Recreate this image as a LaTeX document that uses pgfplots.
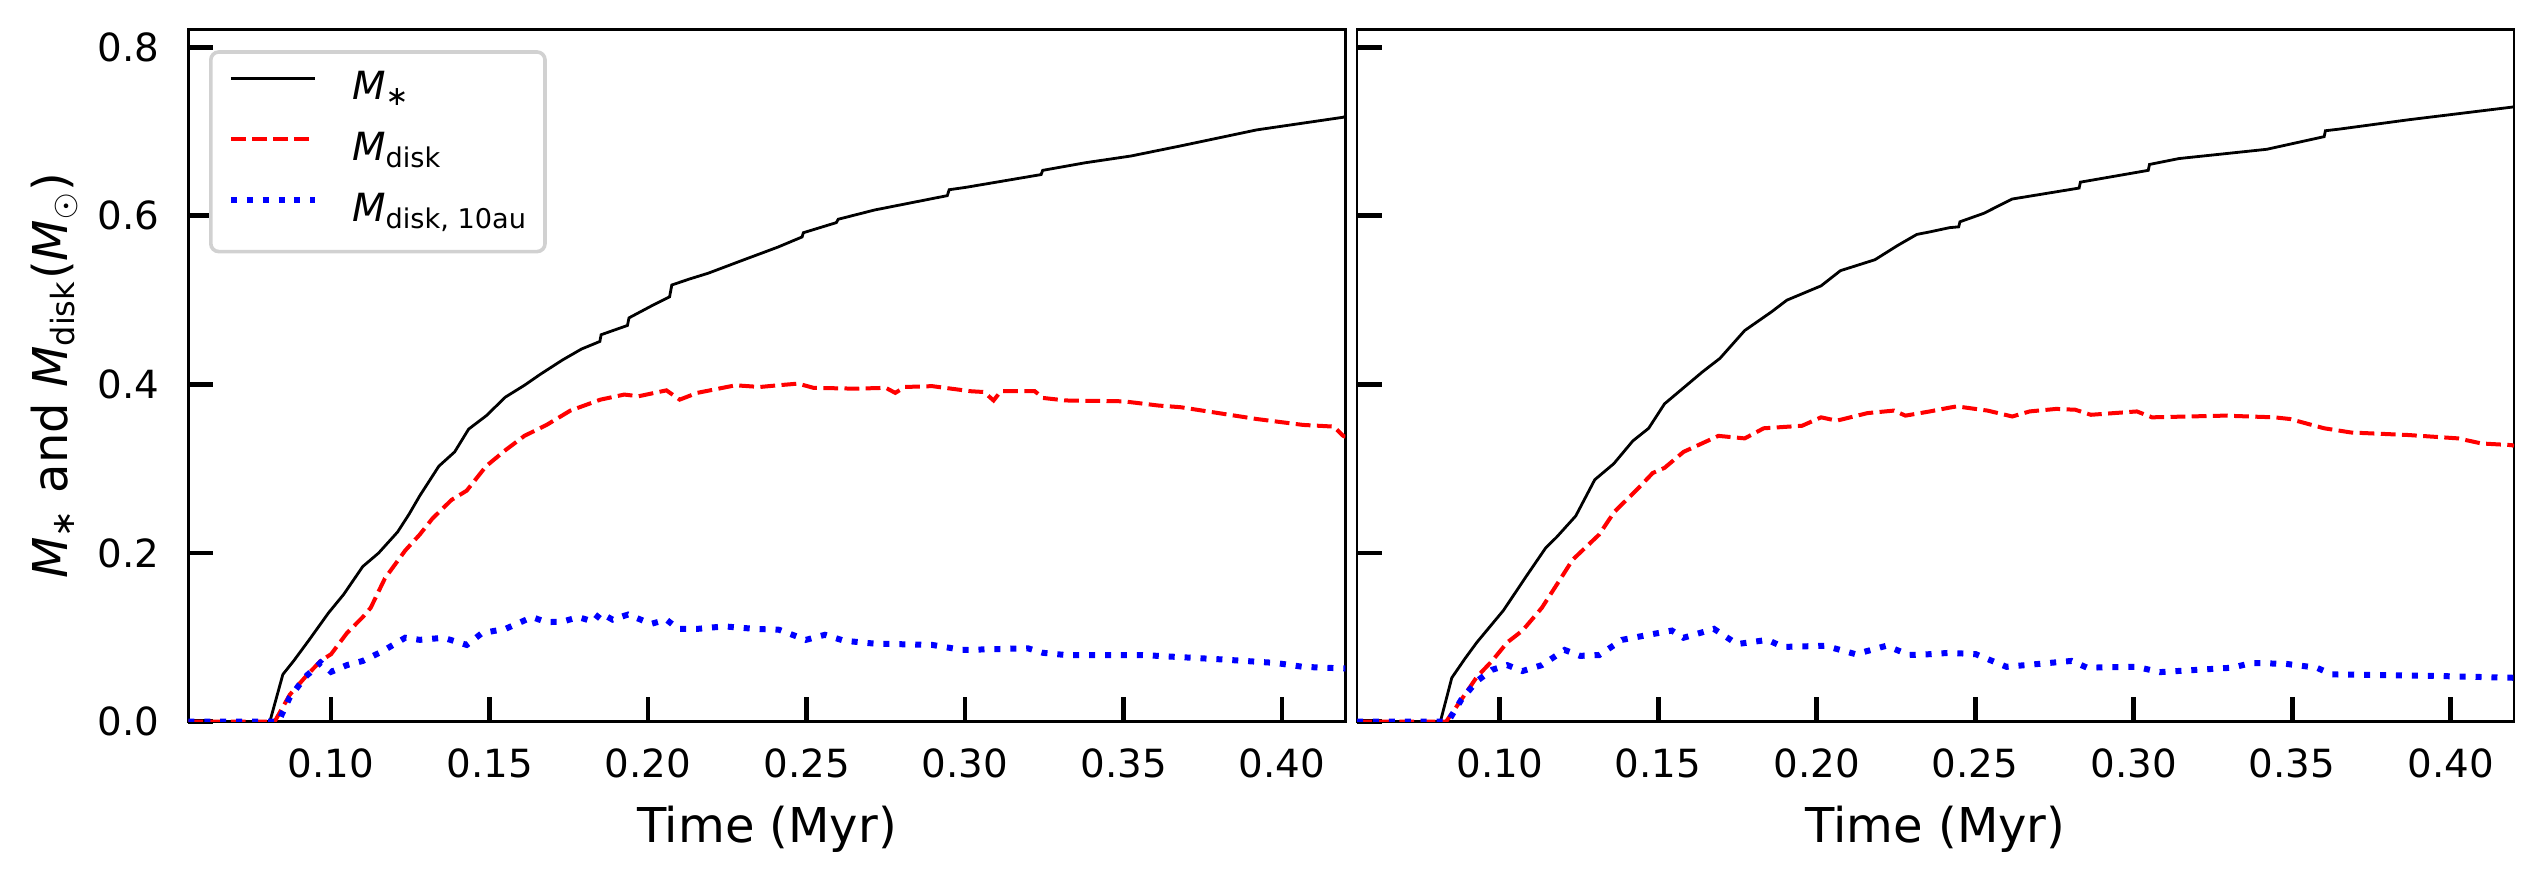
\documentclass[border=0pt]{standalone}
\usepackage{fontspec}
\setmainfont{DejaVu Sans}
\usepackage{pgfplots}
\pgfplotsset{compat=1.18}
\newcommand{\Msub}[1]{\textit{M}\textsubscript{#1}}
\newcommand{\tickfont}{\fontsize{9.7}{11}\selectfont}
\newcommand{\labfont}{\fontsize{12}{14}\selectfont}

\pgfplotsset{
  panel/.style={
    scale only axis, width=289.25pt, height=173pt,
    xmin=0.055, xmax=0.42, ymin=0, ymax=0.821,
    xtick={0.10,0.15,0.20,0.25,0.30,0.35,0.40},
    ytick={0,0.2,0.4,0.6,0.8},
    xtick pos=bottom, ytick pos=left,
    tick align=inside,
    major tick length=6.2pt,
    tick style={black, line width=1.2pt},
    axis line style={line width=0.7pt},
    /pgf/number format/assume math mode=true,
    x tick label style={/pgf/number format/fixed, /pgf/number format/fixed zerofill, /pgf/number format/precision=2,
      font=\tickfont, inner sep=0pt, anchor=base, yshift=-14pt},
    y tick label style={/pgf/number format/fixed, /pgf/number format/fixed zerofill, /pgf/number format/precision=1,
      font=\tickfont, inner sep=0pt, anchor=east, xshift=-7.1pt},
    every axis x label/.style={at={(axis description cs:0.5,-0.1751)}, anchor=base, inner sep=0pt, font=\labfont},
    every axis y label/.style={at={(axis description cs:-0.0951,0.5)}, anchor=south, rotate=90, inner sep=0pt, font=\labfont},
    xlabel={Time (Myr)},
  },
  mstar/.style={black, line width=0.7pt, mark=none},
  mdisk/.style={red, line width=1pt, dash pattern=on 3.7pt off 1.6pt, mark=none},
  mten/.style={blue, line width=1.5pt, dash pattern=on 1.5pt off 2.48pt, mark=none},
}

\begin{document}
\begin{tikzpicture}
\useasboundingbox (0,0) rectangle (635.75pt,220.5pt);

\begin{axis}[panel, at={(47.1pt,40.1pt)}, anchor=south west,
  ylabel={\Msub{∗} and \Msub{disk}(\Msub{$\odot$})},
  legend image code/.code={\draw[#1] (0pt,0.32em) -- (21pt,0.32em);},
  legend cell align=left,
  legend style={at={(0,1)}, anchor=north west, xshift=5.15pt, yshift=-5.15pt,
    draw=black!18, line width=0.9pt, rounded corners=2pt, fill=white,
    inner xsep=4.25pt, inner ysep=5pt, row sep=5.7pt, column sep=8.6pt,
    font=\tickfont, nodes={inner sep=0pt, text height=7pt, text depth=2.5pt}},
]
\addplot[mstar] coordinates {
(0.055,0) (0.0807,0) (0.0848,0.056) (0.0882,0.072) (0.0931,0.097) (0.0992,0.129) (0.104,0.151) (0.110,0.184) (0.115,0.200) (0.121,0.225) (0.1246,0.246) (0.128,0.268) (0.134,0.303) (0.139,0.320) (0.1434,0.347) (0.149,0.363) (0.155,0.385) (0.161,0.399) (0.166,0.412) (0.173,0.429) (0.179,0.442) (0.1848,0.451) (0.1852,0.459) (0.1935,0.470) (0.194,0.479) (0.201,0.493) (0.2068,0.504) (0.2075,0.518) (0.213,0.525) (0.219,0.532) (0.231,0.549) (0.2353,0.555) (0.241,0.563) (0.2486,0.575) (0.249,0.580) (0.2594,0.592) (0.260,0.596) (0.2715,0.607) (0.2944,0.624) (0.2950,0.631) (0.3005,0.634) (0.324,0.649) (0.3245,0.654) (0.3379,0.663) (0.3523,0.671) (0.368,0.683) (0.392,0.702) (0.4193,0.717) (0.42,0.718)
};
\addlegendentry{\Msub{∗}}
\addplot[mdisk] coordinates {
(0.055,0) (0.0822,0) (0.087,0.032) (0.0919,0.053) (0.0967,0.072) (0.100,0.080) (0.105,0.105) (0.110,0.124) (0.1125,0.135) (0.117,0.170) (0.1234,0.203) (0.128,0.222) (0.132,0.241) (0.138,0.263) (0.1428,0.274) (0.1489,0.303) (0.155,0.322) (0.161,0.339) (0.168,0.352) (0.1755,0.369) (0.185,0.382) (0.1925,0.388) (0.197,0.386) (0.2058,0.393) (0.210,0.382) (0.2155,0.390) (0.2276,0.399) (0.2353,0.397) (0.241,0.399) (0.2473,0.401) (0.2522,0.396) (0.2654,0.395) (0.275,0.396) (0.278,0.390) (0.281,0.397) (0.2896,0.398) (0.3017,0.392) (0.306,0.391) (0.309,0.381) (0.3113,0.392) (0.322,0.392) (0.3246,0.384) (0.3318,0.381) (0.35,0.380) (0.361,0.375) (0.368,0.373) (0.380,0.366) (0.392,0.359) (0.4066,0.352) (0.4163,0.350) (0.4193,0.339) (0.42,0.338)
};
\addlegendentry{\Msub{disk}}
\addplot[mten] coordinates {
(0.055,0) (0.0834,0) (0.087,0.029) (0.0919,0.053) (0.0967,0.070) (0.100,0.059) (0.105,0.067) (0.110,0.072) (0.116,0.083) (0.1234,0.0995) (0.128,0.097) (0.1355,0.0995) (0.1428,0.091) (0.1476,0.105) (0.155,0.110) (0.1634,0.124) (0.168,0.118) (0.173,0.1186) (0.178,0.124) (0.1828,0.1186) (0.185,0.129) (0.1888,0.121) (0.1937,0.127) (0.201,0.116) (0.2058,0.121) (0.2095,0.110) (0.2155,0.110) (0.224,0.113) (0.2337,0.110) (0.2413,0.109) (0.2498,0.097) (0.2558,0.103) (0.2618,0.096) (0.2715,0.0925) (0.2896,0.091) (0.2992,0.085) (0.3198,0.087) (0.3246,0.0816) (0.3318,0.079) (0.356,0.079) (0.380,0.074) (0.398,0.0696) (0.4066,0.065) (0.42,0.063)
};
\addlegendentry{\Msub{disk, 10au}}
\end{axis}

\begin{axis}[panel, at={(339.25pt,40.1pt)}, anchor=south west, yticklabels={}]
\addplot[mstar] coordinates {
(0.055,0) (0.0813,0) (0.0849,0.052) (0.0891,0.075) (0.0928,0.094) (0.1012,0.132) (0.1085,0.173) (0.1145,0.206) (0.118,0.219) (0.124,0.244) (0.130,0.287) (0.136,0.306) (0.142,0.333) (0.147,0.348) (0.152,0.377) (0.158,0.396) (0.164,0.415) (0.1695,0.431) (0.1773,0.464) (0.1857,0.486) (0.1906,0.500) (0.2014,0.517) (0.2075,0.535) (0.2184,0.548) (0.2256,0.565) (0.2316,0.578) (0.2357,0.581) (0.2419,0.586) (0.2448,0.587) (0.2452,0.593) (0.2527,0.603) (0.2617,0.620) (0.2828,0.633) (0.2832,0.640) (0.3046,0.654) (0.305,0.661) (0.3143,0.668) (0.342,0.679) (0.3601,0.694) (0.3605,0.701) (0.365,0.703) (0.3867,0.714) (0.4193,0.729) (0.42,0.7295)
};
\addplot[mdisk] coordinates {
(0.055,0) (0.0831,0) (0.0879,0.026) (0.0928,0.053) (0.0976,0.072) (0.1024,0.094) (0.1072,0.108) (0.1133,0.135) (0.1193,0.170) (0.123,0.192) (0.1314,0.222) (0.1362,0.249) (0.1435,0.276) (0.1483,0.295) (0.152,0.301) (0.158,0.320) (0.169,0.339) (0.1773,0.336) (0.1833,0.348) (0.1954,0.351) (0.2014,0.361) (0.2063,0.357) (0.216,0.366) (0.2244,0.369) (0.228,0.363) (0.2357,0.368) (0.2419,0.3725) (0.2442,0.374) (0.2539,0.369) (0.2617,0.362) (0.2672,0.368) (0.2756,0.371) (0.2816,0.370) (0.2865,0.364) (0.301,0.368) (0.3058,0.361) (0.3287,0.363) (0.3444,0.361) (0.3493,0.359) (0.3601,0.348) (0.3686,0.343) (0.3867,0.340) (0.4024,0.336) (0.4097,0.330) (0.4193,0.328) (0.42,0.327)
};
\addplot[mten] coordinates {
(0.055,0) (0.0837,0) (0.0879,0.026) (0.0928,0.048) (0.0976,0.0615) (0.1024,0.067) (0.1072,0.060) (0.1133,0.067) (0.1205,0.085) (0.1254,0.078) (0.1314,0.079) (0.1386,0.097) (0.147,0.103) (0.1543,0.108) (0.158,0.0995) (0.1676,0.110) (0.1749,0.092) (0.1845,0.097) (0.1894,0.0886) (0.2027,0.090) (0.2123,0.080) (0.222,0.090) (0.2292,0.079) (0.2357,0.080) (0.2419,0.0816) (0.2502,0.080) (0.2599,0.065) (0.2804,0.072) (0.2853,0.064) (0.301,0.065) (0.3082,0.0587) (0.3312,0.064) (0.3372,0.0696) (0.3481,0.0685) (0.3577,0.064) (0.3626,0.056) (0.3928,0.0544) (0.42,0.052)
};
\end{axis}
\end{tikzpicture}
\end{document}
